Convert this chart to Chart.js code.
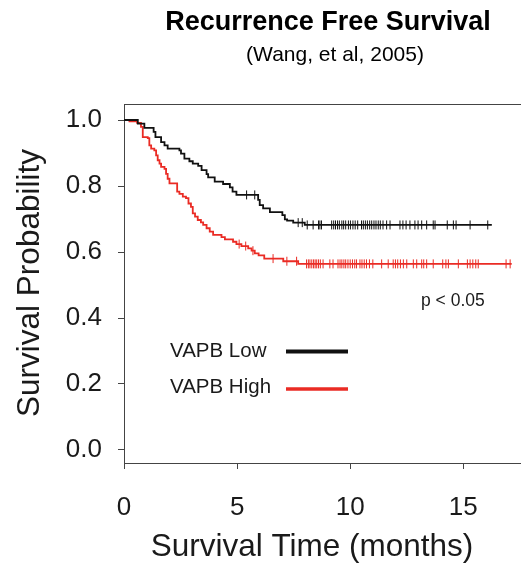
<!DOCTYPE html>
<html>
<head>
<meta charset="utf-8">
<script src="https://cdn.jsdelivr.net/npm/chart.js@4.4.1/dist/chart.umd.min.js"></script>
<style>
  html, body { margin: 0; padding: 0; background: #fff; }
  #wrap { width: 521px; height: 573px; }
</style>
</head>
<body>
<div id="wrap"><canvas id="km" width="521" height="573"></canvas></div>
<script>
// Kaplan-Meier, VAPB low / high
const lowTimes = [0, 0.61, 0.90, 1.31, 1.39, 1.64, 1.79, 1.93, 2.45, 2.52, 2.67, 2.89, 3.04, 3.28, 3.43, 3.65, 3.72, 4.01, 4.38, 4.68, 4.80, 4.97, 5.93, 6.00, 6.15, 6.45, 7.00, 7.11, 7.21, 7.48, 7.99, 16.26];
const lowSurv  = [1.0, 0.989, 0.976, 0.964, 0.948, 0.933, 0.923, 0.913, 0.908, 0.898, 0.883, 0.875, 0.868, 0.861, 0.848, 0.836, 0.826, 0.813, 0.806, 0.796, 0.783, 0.773, 0.758, 0.742, 0.732, 0.721, 0.712, 0.699, 0.695, 0.689, 0.682, 0.682];
const lowCensor = [5.42, 5.78, 7.70, 7.88, 8.10, 8.36, 8.60, 8.66, 8.73, 9.18, 9.27, 9.35, 9.44, 9.52, 9.63, 9.71, 9.80, 9.92, 10.01, 10.12, 10.22, 10.33, 10.50, 10.58, 10.67, 10.76, 10.86, 10.95, 11.05, 11.14, 11.24, 11.33, 11.45, 11.61, 11.76, 12.20, 12.33, 12.47, 12.64, 12.86, 13.00, 13.16, 13.38, 13.67, 13.75, 14.29, 14.56, 14.68, 15.30, 16.08];

const highTimes = [0, 0.24, 0.58, 0.75, 0.83, 1.05, 1.12, 1.20, 1.34, 1.42, 1.49, 1.57, 1.64, 1.79, 1.86, 1.93, 2.01, 2.35, 2.45, 2.60, 2.74, 2.85, 2.96, 3.04, 3.14, 3.26, 3.40, 3.50, 3.65, 3.79, 3.94, 4.31, 4.46, 4.82, 4.97, 5.19, 5.49, 5.64, 5.78, 5.95, 6.20, 7.04, 7.70, 17.14];
const highSurv  = [1.0, 0.996, 0.991, 0.979, 0.948, 0.945, 0.923, 0.913, 0.908, 0.893, 0.878, 0.868, 0.858, 0.852, 0.837, 0.822, 0.808, 0.783, 0.776, 0.768, 0.763, 0.747, 0.737, 0.717, 0.707, 0.697, 0.690, 0.682, 0.672, 0.662, 0.652, 0.645, 0.638, 0.631, 0.624, 0.618, 0.611, 0.604, 0.596, 0.590, 0.580, 0.572, 0.564, 0.564];
const highCensor = [5.09, 5.38, 5.70, 6.59, 7.20, 7.63, 8.07, 8.15, 8.22, 8.30, 8.38, 8.45, 8.52, 8.60, 8.68, 8.80, 9.10, 9.24, 9.46, 9.55, 9.63, 9.72, 9.80, 9.90, 10.00, 10.10, 10.20, 10.28, 10.43, 10.52, 10.62, 10.72, 10.85, 11.00, 11.39, 11.68, 11.90, 12.00, 12.10, 12.22, 12.35, 12.50, 12.79, 12.94, 13.16, 13.25, 13.38, 13.67, 14.09, 14.23, 14.34, 14.78, 15.18, 15.30, 15.42, 15.55, 15.66, 16.89, 17.07];

const xTicks = [0, 5, 10, 15];
const yTicks = [0, 0.2, 0.4, 0.6, 0.8, 1.0];

const PRETO = '#111111';
const VERMELHO = '#ea2b24';
const FONTE = '"Liberation Sans", Arial, Helvetica, sans-serif';

function survNoTempo(times, surv, t) {
  let s = surv[0];
  for (let i = 0; i < times.length; i++) {
    if (times[i] <= t) s = surv[i];
  }
  return s;
}

function curva(times, surv) {
  return times.map((t, i) => ({ x: t, y: surv[i] }));
}

function marcas(censor, times, surv) {
  return censor.map(t => ({ x: t, y: survNoTempo(times, surv, t) }));
}

// textos e moldura desenhados por cima
const textos = {
  id: 'textos',
  afterDraw(chart) {
    const ctx = chart.ctx;
    const area = chart.chartArea;
    ctx.save();

    // linha de cima da moldura
    ctx.strokeStyle = '#444';
    ctx.lineWidth = 1;
    ctx.beginPath();
    ctx.moveTo(area.left, area.top + 0.5);
    ctx.lineTo(area.right, area.top + 0.5);
    ctx.stroke();

    ctx.fillStyle = '#000';
    ctx.textAlign = 'center';
    ctx.textBaseline = 'middle';
    ctx.font = 'bold 27px ' + FONTE;
    ctx.fillText('Recurrence Free Survival', 328, 23);
    ctx.font = '21px ' + FONTE;
    ctx.fillText('(Wang, et al, 2005)', 335, 55);

    ctx.fillStyle = '#1a1a1a';
    ctx.font = '31.5px ' + FONTE;
    ctx.fillText('Survival Time (months)', 312, 547);
    ctx.save();
    ctx.translate(30, 283);
    ctx.rotate(-Math.PI / 2);
    ctx.fillText('Survival Probability', 0, 0);
    ctx.restore();

    ctx.textAlign = 'left';
    ctx.font = '17.5px ' + FONTE;
    ctx.fillText('p < 0.05', 421, 301);

    // legenda
    ctx.font = '20.5px ' + FONTE;
    ctx.fillText('VAPB Low', 170, 351);
    ctx.fillText('VAPB High', 170, 387);
    ctx.lineWidth = 4;
    ctx.strokeStyle = PRETO;
    ctx.beginPath();
    ctx.moveTo(286, 351.5);
    ctx.lineTo(348, 351.5);
    ctx.stroke();
    ctx.lineWidth = 3.5;
    ctx.strokeStyle = VERMELHO;
    ctx.beginPath();
    ctx.moveTo(286, 389);
    ctx.lineTo(348, 389);
    ctx.stroke();

    ctx.restore();
  }
};

new Chart(document.getElementById('km'), {
  type: 'line',
  data: {
    datasets: [
      {
        label: 'VAPB Low',
        data: curva(lowTimes, lowSurv),
        stepped: 'before',
        borderColor: PRETO,
        borderWidth: 1.8,
        pointRadius: 0,
        fill: false
      },
      {
        label: 'VAPB High',
        data: curva(highTimes, highSurv),
        stepped: 'before',
        borderColor: VERMELHO,
        borderWidth: 1.8,
        pointRadius: 0,
        fill: false
      },
      {
        label: 'low censor',
        data: marcas(lowCensor, lowTimes, lowSurv),
        showLine: false,
        pointStyle: 'line',
        rotation: 90,
        pointRadius: 4.5,
        pointBorderWidth: 1,
        borderColor: PRETO
      },
      {
        label: 'high censor',
        data: marcas(highCensor, highTimes, highSurv),
        showLine: false,
        pointStyle: 'line',
        rotation: 90,
        pointRadius: 4.5,
        pointBorderWidth: 1,
        borderColor: VERMELHO
      }
    ]
  },
  options: {
    responsive: false,
    animation: false,
    layout: { autoPadding: false, padding: { top: 104, right: 0, bottom: 0, left: 0 } },
    plugins: {
      legend: { display: false },
      tooltip: { enabled: false },
      title: { display: false }
    },
    scales: {
      x: {
        type: 'linear',
        min: 0,
        max: 17.55,
        afterFit(scale) {
          scale.height = 110;
          scale.paddingLeft = 0;
          scale.paddingRight = 0;
        },
        afterBuildTicks(scale) { scale.ticks = xTicks.map(v => ({ value: v })); },
        grid: { drawOnChartArea: false, tickLength: 6, color: '#444' },
        border: { color: '#444', width: 1 },
        ticks: {
          padding: 23,
          color: '#1a1a1a',
          font: { family: FONTE, size: 26 },
          maxRotation: 0,
          callback: v => String(v)
        }
      },
      y: {
        type: 'linear',
        min: -0.0394,
        max: 1.0485,
        afterFit(scale) {
          scale.width = 124;
          scale.paddingTop = 0;
          scale.paddingBottom = 0;
        },
        afterBuildTicks(scale) { scale.ticks = yTicks.map(v => ({ value: v })); },
        grid: { drawOnChartArea: false, tickLength: 6, color: '#444' },
        border: { color: '#444', width: 1 },
        ticks: {
          padding: 16,
          color: '#1a1a1a',
          font: { family: FONTE, size: 26 },
          callback: v => v.toFixed(1)
        }
      }
    }
  },
  plugins: [textos]
});
</script>
</body>
</html>
